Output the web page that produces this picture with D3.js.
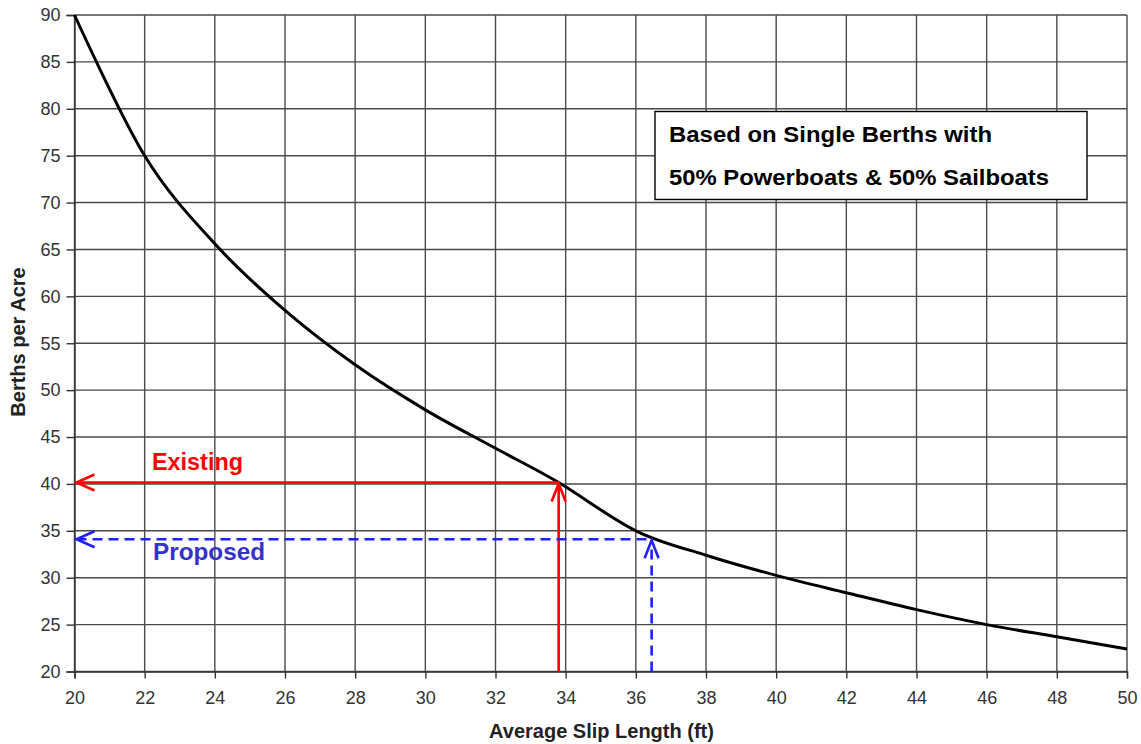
<!DOCTYPE html>
<html><head><meta charset="utf-8">
<script src="https://cdn.jsdelivr.net/npm/d3@7"></script>
<style>
html,body{margin:0;padding:0;background:#fff;}
svg{display:block;font-family:"Liberation Sans",Arial,sans-serif;}
</style></head>
<body>
<svg id="chart" width="1141" height="744"></svg>
<script>
const slipLength = [20,22,24,26,28,30,32,33.8,36,38,40,42,44,46,48,50];
const berthsPerAcre = [90,75,65.6,58.5,52.7,47.9,43.8,40.15,35.0,32.4,30.25,28.4,26.6,25.0,23.7,22.4];
const xTicks = [20,22,24,26,28,30,32,34,36,38,40,42,44,46,48,50];
const yTicks = [20,25,30,35,40,45,50,55,60,65,70,75,80,85,90];
const existing = {label:"Existing", x:33.8, y:40.15};
const proposed = {label:"Proposed", x:36.45, y:34.1};
const noteLines = ["Based on Single Berths with","50% Powerboats & 50% Sailboats"];

const svg = d3.select("#chart");
const L = 74.5, R = 1127, T = 15, B = 671.5;
const x = d3.scaleLinear().domain([20,50]).range([L,R]);
const y = d3.scaleLinear().domain([20,90]).range([B,T]);

// grid
const g = svg.append("g");
g.selectAll(".vg").data(xTicks).join("line")
  .attr("x1",d=>x(d)).attr("x2",d=>x(d)).attr("y1",T).attr("y2",B)
  .attr("stroke","#4a4a4a").attr("stroke-width",1.4);
g.selectAll(".hg").data(yTicks).join("line")
  .attr("x1",L).attr("x2",R).attr("y1",d=>y(d)).attr("y2",d=>y(d))
  .attr("stroke","#4a4a4a").attr("stroke-width",1.4);

// axes
const xAxis = svg.append("g").attr("transform",`translate(0,${B})`)
  .call(d3.axisBottom(x).tickValues(xTicks).tickSize(7).tickPadding(8).tickFormat(d3.format("d")));
const yAxis = svg.append("g").attr("transform",`translate(${L},0)`)
  .call(d3.axisLeft(y).tickValues(yTicks).tickSize(8).tickPadding(6).tickFormat(d3.format("d")));
[xAxis,yAxis].forEach(a=>{
  a.selectAll("path").attr("stroke","#333").attr("stroke-width",1.4);
  a.selectAll("line").attr("stroke","#333").attr("stroke-width",1.4);
  a.selectAll("text").attr("font-size",18).attr("fill","#333").attr("font-family","Liberation Sans, Arial, sans-serif");
});
xAxis.selectAll("text").attr("dy",null).attr("y",null).attr("transform","translate(0,32.5)");

// axis titles
svg.append("text").attr("x",601.5).attr("y",738).attr("text-anchor","middle")
  .attr("font-size",20).attr("font-weight","bold").attr("fill","#222").text("Average Slip Length (ft)");
svg.append("text").attr("transform",`translate(25,342) rotate(-90)`).attr("text-anchor","middle")
  .attr("font-size",20).attr("font-weight","bold").attr("fill","#222").text("Berths per Acre");

// curve
const pts = slipLength.map((d,i)=>[d,berthsPerAcre[i]]);
svg.append("path").datum(pts)
  .attr("d",d3.line().x(d=>x(d[0])).y(d=>y(d[1])).curve(d3.curveCardinal.tension(0)))
  .attr("fill","none").attr("stroke","#000").attr("stroke-width",3);

// indicator lines
function indicator(o,color,dash){
  const gg = svg.append("g").attr("fill","none").attr("stroke",color).attr("stroke-width",2.6);
  const px = x(o.x), py = y(o.y);
  const hl = gg.append("line").attr("x1",L+2).attr("x2",px).attr("y1",py).attr("y2",py);
  const vl = gg.append("line").attr("x1",px).attr("x2",px).attr("y1",B).attr("y2",py+2);
  if(dash){hl.attr("stroke-dasharray",dash); vl.attr("stroke-dasharray",dash);}
  gg.append("path").attr("d",`M${L+20},${py-8} L${L+2},${py} L${L+20},${py+8}`);
  gg.append("path").attr("d",`M${px-7},${py+19} L${px},${py+1} L${px+7},${py+19}`);
}
indicator(existing,"#ff0000",null);
indicator(proposed,"#1f1fff","10,6");

svg.append("text").attr("x",152).attr("y",469.5).attr("textLength",91).attr("lengthAdjust","spacingAndGlyphs")
  .attr("font-size",23).attr("font-weight","bold").attr("fill","#ff0000").text(existing.label);
svg.append("text").attr("x",153).attr("y",559.5).attr("textLength",112).attr("lengthAdjust","spacingAndGlyphs")
  .attr("font-size",23).attr("font-weight","bold").attr("fill","#3333cc").text(proposed.label);

// note box
svg.append("rect").attr("x",655).attr("y",111.5).attr("width",432).attr("height",88)
  .attr("fill","#fff").attr("stroke","#000").attr("stroke-width",1.4);
const noteLens = [323,380];
noteLines.forEach((t,i)=>{
  svg.append("text").attr("x",669).attr("y",141.5+i*43.5)
    .attr("textLength",noteLens[i]).attr("lengthAdjust","spacingAndGlyphs")
    .attr("font-size",22).attr("font-weight","bold").attr("fill","#000").text(t);
});
</script>
</body></html>
